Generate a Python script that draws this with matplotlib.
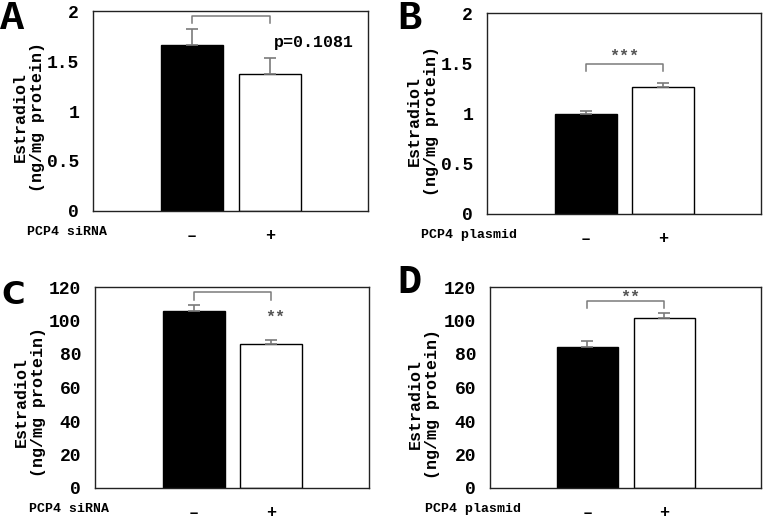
import matplotlib
matplotlib.use('Agg')
import matplotlib.pyplot as plt

plt.rcParams['font.family'] = ['Liberation Mono', 'DejaVu Sans Mono']
plt.rcParams['font.weight'] = 'bold'

W, H = 764, 519

# data
groups = ['\u2013', '+']
a_vals, a_err = [1.66, 1.37], [0.16, 0.16]
b_vals, b_err = [1.00, 1.26], [0.02, 0.04]
c_vals, c_err = [105.9, 85.8], [3.2, 2.8]
d_vals, d_err = [84.1, 101.2], [3.8, 3.0]
small_ticks = [0, 0.5, 1, 1.5, 2]
small_labels = ['0', '0.5', '1', '1.5', '2']
big_ticks = [0, 20, 40, 60, 80, 100, 120]

panels = [
    # box = axes pixel box (left, top, right, bottom), br = bracket (top, leg)
    dict(letter='A', vals=a_vals, err=a_err, ticks=small_ticks, labels=small_labels, ymax=2,
         xlab='PCP4 siRNA', box=(93, 11, 368, 211), br=(1.95, 1.88), ann=('p=0.1081', 2.56, 1.69),
         lpos=(0, 29), ylx=29, yly=117, lfont='Liberation Mono'),
    dict(letter='B', vals=b_vals, err=b_err, ticks=small_ticks, labels=small_labels, ymax=2,
         xlab='PCP4 plasmid', box=(487, 13, 761, 214), br=(1.49, 1.42), ann=('***', 1.5, 1.57),
         lpos=(397, 29), ylx=423, yly=121, lfont='Liberation Mono'),
    dict(letter='C', vals=c_vals, err=c_err, ticks=big_ticks, labels=[str(t) for t in big_ticks], ymax=120,
         xlab='PCP4 siRNA', box=(95, 287, 369, 488), br=(116.8, 112.5), ann=('**', 2.05, 102),
         lpos=(1, 304), ylx=30, yly=402, lfont='DejaVu Sans'),
    dict(letter='D', vals=d_vals, err=d_err, ticks=big_ticks, labels=[str(t) for t in big_ticks], ymax=120,
         xlab='PCP4 plasmid', box=(490, 287, 761, 488), br=(111.6, 107.2), ann=('**', 1.55, 114),
         lpos=(397, 293), ylx=424, yly=404, lfont='Liberation Mono'),
]

fig = plt.figure(figsize=(W / 100, H / 100), dpi=100)

for p in panels:
    l, t, r, b = p['box']
    ax = fig.add_axes([l / W, 1 - b / H, (r - l) / W, (b - t) / H])
    x = [1, 2]
    ax.bar(x, p['vals'], width=0.8, color=['black', 'white'], edgecolor='black', linewidth=1, zorder=2)
    ax.errorbar(x, p['vals'], yerr=[[0, 0], p['err']], fmt='none', ecolor='#7a7a7a',
                elinewidth=1.2, capsize=4, capthick=1.2, zorder=3)
    ax.set_xlim(-0.27, 3.26)
    ax.set_ylim(0, p['ymax'])
    ax.set_yticks(p['ticks'])
    ax.set_yticklabels(p['labels'])
    ax.tick_params(axis='y', length=0, pad=10, labelsize=13)
    ax.set_xticks(x)
    ax.set_xticklabels(groups)
    ax.tick_params(axis='x', length=0, pad=12, labelsize=12)
    for s in ax.spines.values():
        s.set_linewidth(1.0)
        s.set_color('#222222')

    ax.text(-0.24, -0.105, p['xlab'], transform=ax.transAxes, fontsize=9.5,
            ha='left', va='center')

    top, leg = p['br']
    ax.plot([1, 1, 2, 2], [leg, top, top, leg], color='#7a7a7a', linewidth=1.1, zorder=4)
    txt, tx, ty = p['ann']
    ax.text(tx, ty, txt, ha='center', va='center', fontsize=12,
            color='black' if txt.startswith('p') else '#555555')

    fig.text(p['lpos'][0] / W, 1 - p['lpos'][1] / H, p['letter'],
             fontsize=29 if p['lfont'] != 'DejaVu Sans' else 23,
             fontweight='heavy', family=p['lfont'], ha='left', va='baseline')
    fig.text(p['ylx'] / W, 1 - p['yly'] / H, 'Estradiol\n(ng/mg protein)', rotation=90,
             ha='center', va='center', multialignment='center', fontsize=12, linespacing=1.15)

fig.savefig('out.png', dpi=100)
